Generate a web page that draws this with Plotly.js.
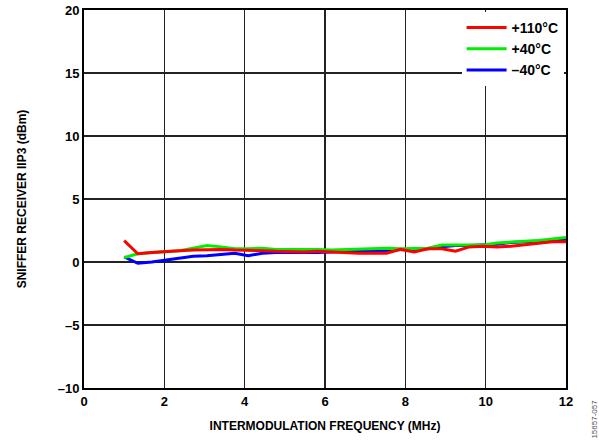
<!DOCTYPE html>
<html><head><meta charset="utf-8">
<script src="https://cdn.plot.ly/plotly-3.0.1.min.js"></script>
<style>html,body{margin:0;padding:0;background:#fff}#chart{width:599px;height:442px}</style>
</head><body><div id="chart"></div>
<script>
const freq = [1,1.34,1.69,2.03,2.38,2.72,3.06,3.41,3.75,4.09,4.44,4.78,5.13,5.47,5.81,6.16,6.5,6.84,7.19,7.53,7.88,8.22,8.56,8.91,9.25,9.59,9.94,10.28,10.63,10.97,11.31,11.66,12];
const iip3_110 = [1.7,0.65,0.75,0.85,0.9,0.95,1.0,1.0,0.95,0.95,0.9,0.85,0.8,0.8,0.85,0.8,0.7,0.7,0.7,0.7,1.0,0.8,1.05,1.05,0.85,1.2,1.25,1.2,1.25,1.35,1.5,1.6,1.6];
const iip3_40 = [0.35,0.65,0.75,0.85,0.9,1.1,1.3,1.2,1.05,1.05,1.1,1.0,1.0,1.05,1.0,0.95,1.0,1.0,1.05,1.1,1.05,1.1,1.1,1.35,1.35,1.35,1.35,1.5,1.6,1.65,1.7,1.8,1.95];
const iip3_m40 = [0.4,-0.1,0.0,0.15,0.3,0.45,0.5,0.6,0.7,0.5,0.7,0.75,0.75,0.7,0.75,0.8,0.85,0.85,0.9,0.85,1.0,1.0,1.05,1.2,1.3,1.3,1.35,1.4,1.55,1.6,1.6,1.7,1.8];
const names = ['+110°C','+40°C','\u201340°C'];
const colors = ['#ff0000','#00ee00','#0000ff'];
const xTicks = [0,2,4,6,8,10,12];
const yTicks = [-10,-5,0,5,10,15,20];
const yTickText = ['\u201310','\u20135','0','5','10','15','20'];

const ys = [iip3_110, iip3_40, iip3_m40];
const traces = [2,1,0].map(k=>({
  x: freq, y: ys[k], name: names[k], mode:'lines', type:'scatter',
  line:{color:colors[k], width:3}, legendrank: k+1
}));

const font = {family:'Liberation Sans', color:'#000', weight:700};
Plotly.newPlot('chart', traces, {
  width:599, height:442,
  margin:{l:84, r:33, t:10, b:54},
  paper_bgcolor:'#fff', plot_bgcolor:'#fff',
  font: font,
  showlegend:true,
  legend:{x:0.995, y:0.995, xanchor:'right', yanchor:'top', bgcolor:'#fff', borderwidth:0,
    font:{...font, size:14}, tracegroupgap:0, itemwidth:40, entrywidth:75, traceorder:'normal'},
  xaxis:{range:[0,12], tickvals:xTicks, ticktext:xTicks.map(String), showgrid:true, gridcolor:'#222', gridwidth:1.5,
    zeroline:false, showline:true, linecolor:'#000', linewidth:2, mirror:true, ticks:'',
    tickfont:{...font, size:13},
    title:{text:'INTERMODULATION FREQUENCY (MHz)', font:{...font, size:12}, standoff:14}},
  yaxis:{range:[-10,20], tickvals:yTicks, ticktext:yTickText, showgrid:true, gridcolor:'#222', gridwidth:1.5,
    zeroline:false, showline:true, linecolor:'#000', linewidth:2, mirror:true, ticks:'',
    tickfont:{...font, size:13},
    title:{text:'SNIFFER RECEIVER IIP3 (dBm)', font:{...font, size:12}, standoff:28}},
  annotations:[{text:'15657-057', xref:'paper', yref:'paper', x:1.045, y:-0.14, xanchor:'left', yanchor:'bottom',
    textangle:-90, showarrow:false, font:{family:'Liberation Sans', size:8, color:'#555', weight:400}}]
}, {displayModeBar:false, staticPlot:true});
</script></body></html>
